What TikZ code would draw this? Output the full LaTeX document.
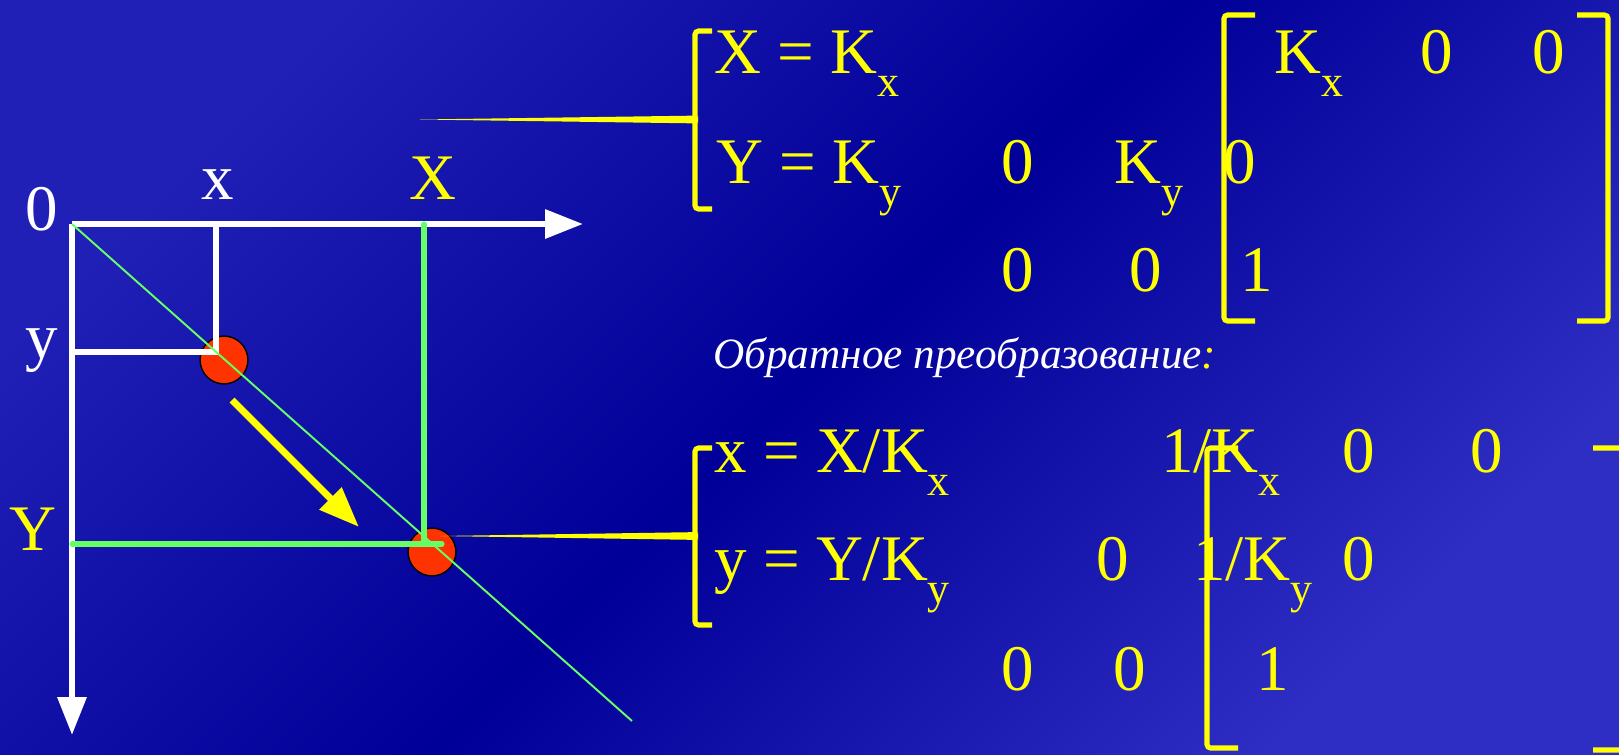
\documentclass[tikz,border=0pt]{standalone}
\usepackage{fontspec}
\setmainfont{Liberation Serif}
\usetikzlibrary{arrows.meta}
\definecolor{bgA}{RGB}{32,32,182}
\definecolor{bgM}{RGB}{0,0,152}
\definecolor{bgB}{RGB}{46,46,196}
\definecolor{ylw}{RGB}{255,255,0}
\definecolor{grn}{RGB}{102,255,102}
\definecolor{dotred}{RGB}{255,51,0}
\newcommand{\lowsub}[1]{\raisebox{-13.6pt}{\fontsize{25}{25}\selectfont #1}}
\begin{document}
\begin{tikzpicture}[x=0.02cm,y=-0.02cm,
  big/.style={inner sep=0pt,font=\fontsize{37}{37}\selectfont},
  rus/.style={inner sep=0pt,font=\fontsize{24.6}{24.6}\selectfont\itshape},
  waxis/.style={white,line width=3.4pt,-{Triangle[length=21.5pt,width=15.9pt]}},
  wline/.style={white,line width=2.9pt},
  gthin/.style={grn,line width=1.1pt},
  gthick/.style={grn,line width=2.9pt,line cap=round},
  yarrow/.style={ylw,line width=4pt,-{Triangle[length=23pt,width=17pt]}},
  reddot/.style={circle,fill=dotred,draw=black,line width=0.8pt,minimum size=27.2pt,inner sep=0pt},
  brk/.style={ylw,line width=2.9pt,rounded corners=2pt},
  ytxt/.style={big,ylw}]
\useasboundingbox (0,0) rectangle (1619,754);
\clip (0,0) rectangle (1619,754);
\shade[top color=bgA,bottom color=bgB,middle color=bgM,shading angle=45] (0,0) rectangle (1619,754);

% axes
\coordinate (O) at (72,224);
\coordinate (xtip) at (583,224);
\coordinate (ytip) at (72,735);
\draw[waxis] (O) -- (xtip);
\draw[waxis] (O) -- (ytip);

% red points
\node[reddot] (p1) at (224,360) {};
\node[reddot] (p2) at (432,552) {};

% white projection of first point
\coordinate (ry) at (72,352);
\coordinate (rc) at (216,352);
\coordinate (rx) at (216,224);
\draw[wline] (ry) -- (rc) -- (rx);

% green lines
\coordinate (gend) at (632,721);
\draw[gthin] (O) -- (gend);
\coordinate (gX) at (424,224);
\coordinate (gc) at (424,544);
\coordinate (gY) at (72,544);
\coordinate (ge) at (442,544);
\draw[gthick] (gX) -- (gc);
\draw[gthick] (gY) -- (ge);

% yellow motion arrow
\coordinate (a1) at (232,400);
\coordinate (a2) at (359,527);
\draw[yarrow] (a1) -- (a2);

% axis labels
\node[big,white,anchor=base] (l0) at (41.5,230) {0};
\node[big,white,anchor=base] (lx) at (218,199) {x};
\node[ytxt,anchor=base] (lX) at (433,199) {X};
\node[big,white,anchor=base] (ly) at (42,358) {y};
\node[ytxt,anchor=base] (lY) at (33,550) {Y};

% tapered leader lines
\coordinate (t1) at (420,119.5);
\coordinate (t2) at (695,119.5);
\fill[ylw] (t1) -- ([yshift=-2.2]t2) -- ([shift={(3,-4)}]t2) -- ([shift={(3,4)}]t2) -- ([yshift=2.2]t2) -- cycle;
\coordinate (b1) at (440,536);
\coordinate (b2) at (695,536);
\fill[ylw] (b1) -- ([yshift=-2.2]b2) -- ([shift={(3,-4)}]b2) -- ([shift={(3,4)}]b2) -- ([yshift=2.2]b2) -- cycle;

% system brackets
\draw[brk] (712,31) -- (695,31) -- (695,209) -- (712,209);
\draw[brk] (712,448) -- (695,448) -- (695,625) -- (712,625);

% direct transform
\node[ytxt,anchor=base west] (e1) at (714,73) {X = K\lowsub{x}};
\node[ytxt,anchor=base west] (e2) at (716,183) {Y = K\lowsub{y}};

% top matrix
\draw[brk] (1255,15) -- (1224,15) -- (1224,321) -- (1255,321);
\draw[brk] (1577,15) -- (1608,15) -- (1608,321) -- (1577,321);
\node[ytxt,anchor=base west] (m11) at (1274,73) {K\lowsub{x}};
\node[ytxt,anchor=base] (m12) at (1437,73) {0};
\node[ytxt,anchor=base] (m13) at (1549,73) {0};
\node[ytxt,anchor=base] (m21) at (1018,183) {0};
\node[ytxt,anchor=base west] (m22) at (1114,183) {K\lowsub{y}};
\node[ytxt,anchor=base] (m23) at (1240,183) {0};
\node[ytxt,anchor=base] (m31) at (1018,291) {0};
\node[ytxt,anchor=base] (m32) at (1146,291) {0};
\node[ytxt,anchor=base] (m33) at (1257,291) {1};

% caption
\node[rus,anchor=base west] (inv) at (713,368) {\textcolor{white}{Обратное преобразование}\textcolor{ylw}{:}};

% inverse transform
\node[ytxt,anchor=base west] (e3) at (714,472) {x = X/K\lowsub{x}};
\node[ytxt,anchor=base west] (e4) at (714,580) {y = Y/K\lowsub{y}};

% bottom matrix
\node[ytxt,anchor=base west] (n11) at (1161,472) {1/K\lowsub{x}};
\node[ytxt,anchor=base] (n12) at (1359,472) {0};
\node[ytxt,anchor=base] (n13) at (1487,472) {0};
\node[ytxt,anchor=base] (n21) at (1113,580) {0};
\node[ytxt,anchor=base west] (n22) at (1193,580) {1/K\lowsub{y}};
\node[ytxt,anchor=base] (n23) at (1359,580) {0};
\node[ytxt,anchor=base] (n31) at (1018,690) {0};
\node[ytxt,anchor=base] (n32) at (1130,690) {0};
\node[ytxt,anchor=base] (n33) at (1273,690) {1};
\draw[brk] (1238,448) -- (1207,448) -- (1207,748) -- (1238,748);
\draw[brk] (1593,448) -- (1624,448) -- (1624,750) -- (1593,750);
\end{tikzpicture}
\end{document}
